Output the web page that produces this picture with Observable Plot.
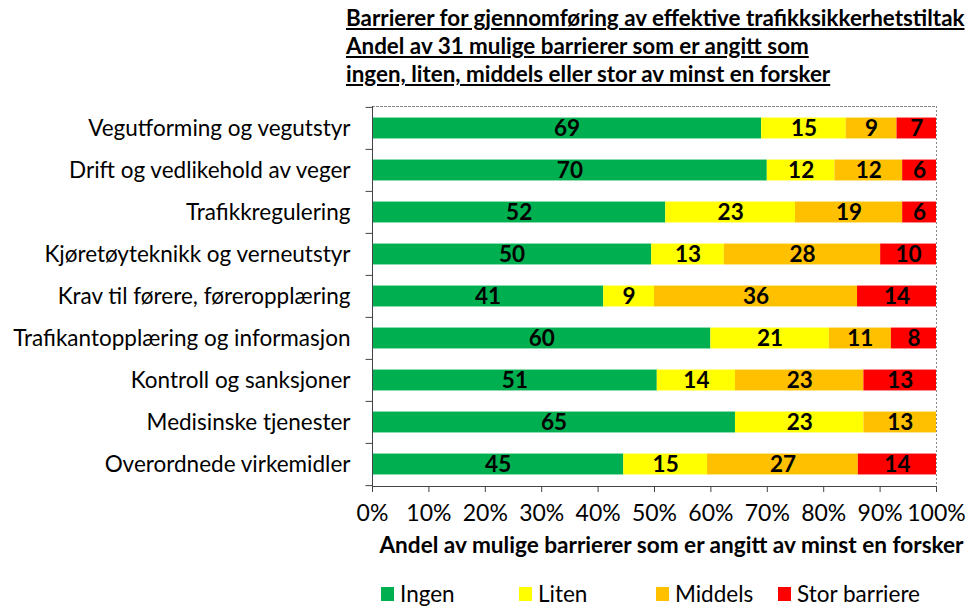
<!DOCTYPE html>
<html><head><meta charset="utf-8">
<script src="https://cdn.jsdelivr.net/npm/d3@7"></script>
<script src="https://cdn.jsdelivr.net/npm/@observablehq/plot@0.6"></script>
<style>
body{margin:0;background:#fff;font-family:Lato,"Noto Sans",sans-serif;}
#wrap{width:966px;height:607px;position:relative;overflow:hidden;}
#title{height:96px;padding-left:346px;box-sizing:border-box;padding-top:4px;font-weight:bold;font-size:22.4px;line-height:28px;text-decoration:underline;color:#000;white-space:nowrap;}
#legend{position:absolute;top:580px;left:0;width:966px;height:27px;font-size:22.5px;line-height:27px;color:#000;}
.item{position:absolute;top:0;display:flex;align-items:center;height:27px;}
.sw{width:13px;height:14px;margin-right:6px;}
</style></head>
<body><div id="wrap">
<div id="title"></div>
<div id="chart"></div>
<div id="legend"></div>
</div>
<script>
const titleLines = ["Barrierer for gjennomføring av effektive trafikksikkerhetstiltak","Andel av 31 mulige barrierer som er angitt som","ingen, liten, middels eller stor av minst en forsker"];
const categories = ["Vegutforming og vegutstyr","Drift og vedlikehold av veger","Trafikkregulering","Kjøretøyteknikk og verneutstyr","Krav til førere, føreropplæring","Trafikantopplæring og informasjon","Kontroll og sanksjoner","Medisinske tjenester","Overordnede virkemidler"];
const levels = ["Ingen","Liten","Middels","Stor barriere"];
const colors = ["#00B050","#FFFF00","#FFC000","#FF0000"];
const ingen   = [69,70,52,50,41,60,51,65,45];
const liten   = [15,12,23,13,9,21,14,23,15];
const middels = [9,12,19,28,36,11,23,13,27];
const stor    = [7,6,6,10,14,8,13,0,14];
const xTicks = [0,0.1,0.2,0.3,0.4,0.5,0.6,0.7,0.8,0.9,1];
const xTitle = "Andel av mulige barrierer som er angitt av minst en forsker";

document.getElementById("title").innerHTML = titleLines.join("<br>");

const series = [ingen, liten, middels, stor];
const data = [];
categories.forEach((c,i)=>levels.forEach((l,j)=>data.push({cat:c, level:l, value:series[j][i]})));

const plotH = 380, mTop = 10;
const bw = plotH / categories.length;

const chart = Plot.plot({
  width: 966, height: 470,
  marginLeft: 372, marginRight: 30, marginTop: mTop, marginBottom: 80,
  style: {fontFamily: "Lato, 'Noto Sans', sans-serif", fontSize: "22px", color: "#000"},
  x: {domain: [0,1]},
  y: {domain: categories, padding: 0},
  color: {domain: levels, range: colors},
  marks: [
    Plot.barX(data, Plot.stackX({offset: "normalize", x: "value", y: "cat", fill: "level", order: levels, insetTop: bw*0.25, insetBottom: bw*0.25})),
    Plot.text(data, Plot.stackX({offset: "normalize", x: "value", y: "cat", z: "level", order: levels, text: d => d.value > 0 ? String(d.value) : "", fontWeight: "bold", fontSize: 22.5, fill: "#000"})),
    Plot.ruleX([1], {stroke: "#888", strokeDasharray: "2,2"}),
    Plot.frame({anchor: "top", stroke: "#888", strokeDasharray: "2,2"}),
    Plot.ruleX([0], {stroke: "#444", strokeWidth: 1}),
    Plot.frame({anchor: "bottom", stroke: "#444"}),
    Plot.ruleY(categories, {y: d => d, dy: -bw/2, x1: -0.0115, x2: 0, stroke: "#444"}),
    Plot.ruleY(categories.slice(-1), {y: d => d, dy: bw/2, x1: -0.0115, x2: 0, stroke: "#444"}),
    Plot.axisY({tickSize: 0, tickPadding: 22, fontSize: 22.5, label: null}),
    Plot.axisX({ticks: xTicks, tickFormat: d3.format(".0%"), tickSize: 6, tickPadding: 12, fontSize: 23, label: null, stroke: "#444"}),
    Plot.text([xTitle], {frameAnchor: "bottom", dy: 66, dx: 17, fontWeight: "bold", fontSize: 22.6, fill: "#000"})
  ]
});
document.getElementById("chart").appendChild(chart);

const lx = [381, 519, 656, 778];
const leg = document.getElementById("legend");
levels.forEach((l,i)=>{
  const d = document.createElement("div");
  d.className = "item"; d.style.left = lx[i] + "px";
  d.innerHTML = `<div class="sw" style="background:${colors[i]}"></div><span>${l}</span>`;
  leg.appendChild(d);
});
</script>
</body></html>
